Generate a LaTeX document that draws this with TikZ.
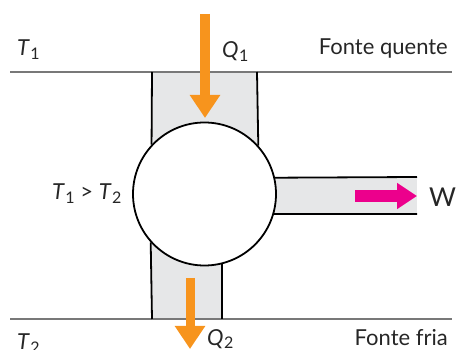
\documentclass[tikz,border=0pt]{standalone}
\usepackage{fontspec}
\setmainfont{Lato}
\usepackage{tikz}
\usetikzlibrary{arrows.meta,positioning}
\definecolor{hgray}{RGB}{120,120,120}
\definecolor{cfill}{RGB}{230,231,232}
\definecolor{horange}{RGB}{247,148,29}
\definecolor{wmagenta}{RGB}{236,0,140}
\definecolor{txtgray}{RGB}{38,38,38}
\newcommand{\tsym}[2]{\textit{#1}\kern0.5pt\raisebox{-0.35ex}{\fontsize{16}{16}\selectfont #2}}

\begin{document}
\begin{tikzpicture}[x=1pt, y=-1pt,
    reservoir/.style={hgray, line width=2.5pt},
    wall/.style={black, line width=1.8pt},
    engine/.style={circle, draw=black, fill=white, line width=1.8pt, minimum size=143pt, inner sep=0pt},
    heatflow/.style={horange, -{Triangle[width=29pt, length=23pt]}},
    workflow/.style={wmagenta, line width=12pt, -{Triangle[width=25pt, length=20pt]}},
    lbl/.style={font=\fontsize{22}{22}\selectfont, text=txtgray, inner sep=0pt}
]
\useasboundingbox (0,0) rectangle (456,350);

% Channels
\fill[cfill] (152,72) rectangle (257,194);
\fill[cfill] (152,194) rectangle (222,319);
\fill[cfill] (204,177) rectangle (417,214);

% Reservoirs
\draw[reservoir] (10,72) -- (452,72);
\draw[reservoir] (10,319) -- (452,319);

% Engine
\node[engine] (eng) at (204.5,194) {};

% Channel walls
\draw[wall] (152,72) -- (eng.137.3);
\draw[wall] (257,72) -- (eng.42.7);
\draw[wall] (eng.13.8) -- (417,177);
\draw[wall] (eng.-16.3) -- (417,214);
\draw[wall] (eng.222.7) -- (152,319);
\draw[wall] (eng.284.2) -- (222,319);

% Heat and work
\coordinate (q1top) at (205,14);
\coordinate (q1tip) at (205,118);
\coordinate (q2top) at (190,278);
\coordinate (q2tip) at (190,349);
\coordinate (wstart) at (355,196);
\coordinate (wtip) at (417,196);
\draw[heatflow, line width=10pt] (q1top) -- (q1tip);
\draw[heatflow, line width=9pt] (q2top) -- (q2tip);
\draw[workflow] (wstart) -- (wtip);

% Labels
\node[lbl, anchor=base west] (t1) at (17,56) {\tsym{T}{1}};
\node[lbl, anchor=base west] (q1) at (222,58) {\tsym{Q}{1}};
\node[lbl, anchor=base east] (hot) at (448,55) {Fonte quente};
\node[lbl, anchor=base west] (cmp) at (52,200) {\tsym{T}{1} > \tsym{T}{2}};
\node[lbl, anchor=base west, font=\fontsize{26}{26}\selectfont] (w) at (429,207) {W};
\node[lbl, anchor=base west] (t2) at (17,350) {\tsym{T}{2}};
\node[lbl, anchor=base west] (q2) at (207,345) {\tsym{Q}{2}};
\node[lbl, anchor=base east] (cold) at (448,346) {Fonte fria};

\end{tikzpicture}
\end{document}
